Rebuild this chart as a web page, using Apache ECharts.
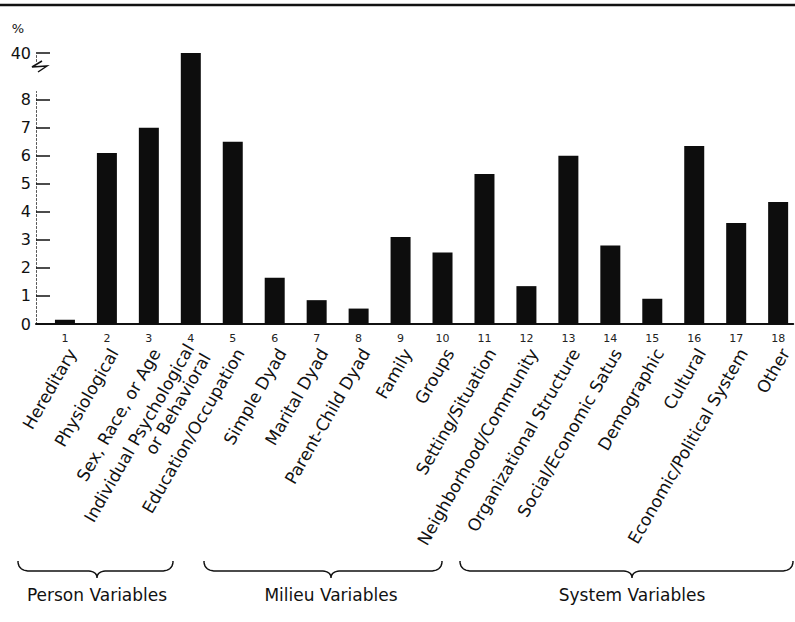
<!DOCTYPE html>
<html>
<head>
<meta charset="utf-8">
<script src="https://cdn.jsdelivr.net/npm/echarts@6/dist/echarts.min.js"></script>
<style>
  html, body { margin: 0; padding: 0; background: #fff; }
  #main { width: 795px; height: 622px; }
</style>
</head>
<body>
<div id="main"></div>
<script>
// category numbers, names and percentages
var catNums = ['1','2','3','4','5','6','7','8','9','10','11','12','13','14','15','16','17','18'];
var catNames = ['Hereditary','Physiological','Sex, Race, or Age','Individual Psychological\nor Behavioral',
  'Education/Occupation','Simple Dyad','Marital Dyad','Parent-Child Dyad','Family','Groups',
  'Setting/Situation','Neighborhood/Community','Organizational Structure','Social/Economic Satus',
  'Demographic','Cultural','Economic/Political System','Other'];
var percents = [0.15, 6.1, 7.0, 40, 6.5, 1.65, 0.85, 0.55, 3.1, 2.55, 5.35, 1.35, 6.0, 2.8, 0.9, 6.35, 3.6, 4.35];
var yTicks = [0, 1, 2, 3, 4, 5, 6, 7, 8, 40];
var groups = ['Person Variables', 'Milieu Variables', 'System Variables'];

var FONT = 'DejaVu Sans';
var positions = catNums.map(function (n) { return +n; });
var barData = percents.map(function (v, i) { return [positions[i], v]; });

var chart = echarts.init(document.getElementById('main'), null, { renderer: 'svg' });

// brace under a group of labels, sampled as a polyline
function quad(p0, p1, p2, out) {
  for (var t = 0.1; t <= 1.0001; t += 0.1) {
    var a = (1 - t) * (1 - t), b = 2 * (1 - t) * t, c = t * t;
    out.push([a * p0[0] + b * p1[0] + c * p2[0], a * p0[1] + b * p1[1] + c * p2[1]]);
  }
}
function brace(x0, x1, xm) {
  var y0 = 561, y1 = 571, y2 = 578;
  var pts = [[x0, y0]];
  quad([x0, y0], [x0, y1], [x0 + 12, y1], pts);
  pts.push([xm - 10, y1]);
  quad([xm - 10, y1], [xm, y1], [xm, y2], pts);
  quad([xm, y2], [xm, y1], [xm + 10, y1], pts);
  pts.push([x1 - 12, y1]);
  quad([x1 - 12, y1], [x1, y1], [x1, y0], pts);
  return pts;
}
var braceSpans = [[18, 173, 97], [204, 442, 331], [460, 793, 632]];

// name labels sit a little right of the number under each bar
var nameShift = 0.17;

var option = {
  animation: false,
  backgroundColor: '#fff',
  grid: { left: 36, right: 0, top: 53, bottom: 298 },
  xAxis: [{
    type: 'value', min: 0.31, max: 18.36,
    splitLine: { show: false },
    axisTick: { show: false },
    axisLine: { show: true, lineStyle: { color: '#111', width: 2 } },
    axisLabel: {
      customValues: positions,
      formatter: function (v) { return catNums[Math.round(v) - 1]; },
      fontFamily: FONT, fontSize: 11, color: '#222', margin: 9
    }
  }, {
    type: 'value', min: 0.31 - nameShift, max: 18.36 - nameShift, position: 'bottom',
    splitLine: { show: false },
    axisTick: { show: false },
    axisLine: { show: false },
    axisLabel: {
      customValues: positions,
      formatter: function (v) { return catNames[Math.round(v) - 1]; },
      rotate: 60, fontFamily: FONT, fontSize: 17, color: '#111', margin: 26, lineHeight: 19
    }
  }],
  yAxis: {
    type: 'value', min: 0, max: 40, interval: 1,
    breaks: [{ start: 8.3, end: 39.7, gap: '11%' }],
    breakArea: { show: false },
    splitLine: { show: false },
    name: '%', nameLocation: 'end', nameGap: 18,
    nameTextStyle: { fontFamily: FONT, fontSize: 13, color: '#111', align: 'right', padding: [0, 12, 0, 0] },
    axisLine: { show: true, lineStyle: { color: '#555', width: 1, type: [2, 2] } },
    axisTick: { show: true, inside: true, length: 14, lineStyle: { color: '#111', width: 1.5 },
      customValues: yTicks },
    axisLabel: {
      customValues: yTicks,
      fontFamily: FONT, fontSize: 16, color: '#111', margin: 5
    }
  },
  series: [{
    type: 'bar', xAxisIndex: 0, data: barData, barWidth: 20,
    itemStyle: { color: '#0d0d0d' }
  }],
  graphic: [
    { type: 'line', shape: { x1: 0, y1: 5, x2: 795, y2: 5 }, style: { stroke: '#111', lineWidth: 2.5 } },
    { type: 'polyline', shape: { points: [[42, 61], [32, 67], [47, 66], [38, 72]] },
      style: { stroke: '#111', lineWidth: 1.5, fill: null } }
  ].concat(braceSpans.map(function (s) {
    return { type: 'polyline', shape: { points: brace(s[0], s[1], s[2]) },
      style: { stroke: '#111', lineWidth: 1.5, fill: null } };
  })).concat(braceSpans.map(function (s, i) {
    return { type: 'text', x: s[2], y: 595,
      style: { text: groups[i], fontFamily: FONT, fontSize: 17, fill: '#111',
        textAlign: 'center', textVerticalAlign: 'middle' } };
  }))
};

chart.setOption(option);
window.onresize = function () { chart.resize(); };
</script>
</body>
</html>
